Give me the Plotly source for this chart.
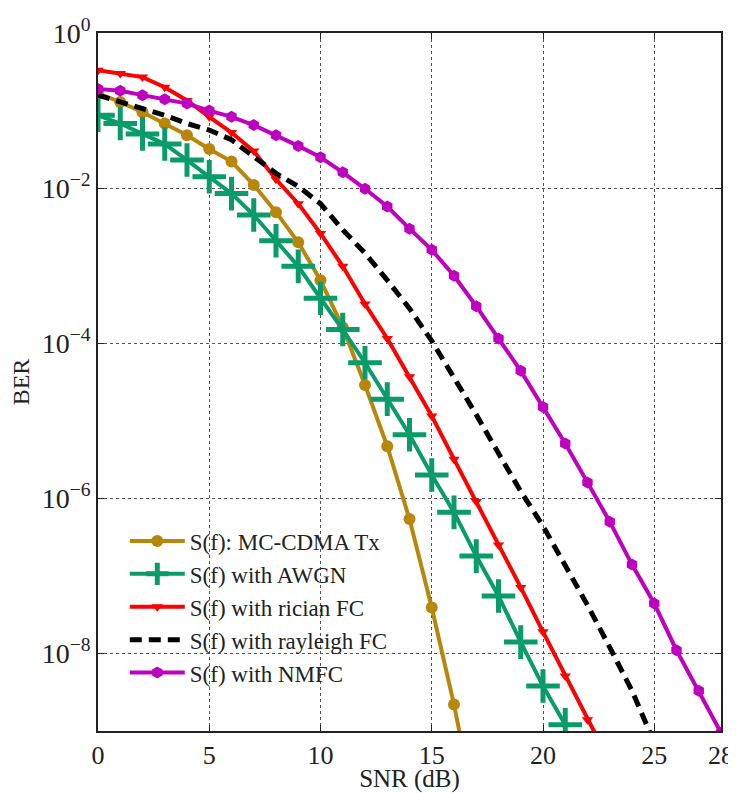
import plotly.graph_objects as go

# SNR axis (dB)
snr_tx = [0, 1, 2, 3, 4, 5, 6, 7, 8, 9, 10, 11, 12, 13, 14, 15, 16, 17]
ber_tx = [1.66e-1, 1.29e-1, 9.5e-2, 6.8e-2, 4.8e-2, 3.2e-2, 2.2e-2, 1.1e-2, 4.9e-3, 2.0e-3,
          6.5e-4, 1.6e-4, 2.9e-5, 4.7e-6, 5.4e-7, 3.9e-8, 2.2e-9, 8e-11]

snr_awgn = [0, 1, 2, 3, 4, 5, 6, 7, 8, 9, 10, 11, 12, 13, 14, 15, 16, 17, 18, 19, 20, 21]
ber_awgn = [8.7e-2, 6.8e-2, 5.0e-2, 3.7e-2, 2.3e-2, 1.4e-2, 8.5e-3, 4.5e-3, 2.1e-3, 9.8e-4,
            3.8e-4, 1.5e-4, 5.6e-5, 1.9e-5, 6.6e-6, 2.0e-6, 6.6e-7, 1.8e-7, 5.5e-8, 1.4e-8,
            3.8e-9, 1.2e-9]

snr_rician = [0, 1, 2, 3, 4, 5, 6, 7, 8, 9, 10, 11, 12, 13, 14, 15, 16, 17, 18, 19, 20, 21, 22, 23]
ber_rician = [3.3e-1, 3.0e-1, 2.7e-1, 2.0e-1, 1.35e-1, 8.3e-2, 5.2e-2, 3.0e-2, 1.3e-2, 6.3e-3,
              2.6e-3, 9.8e-4, 3.2e-4, 1.15e-4, 3.7e-5, 1.15e-5, 3.2e-6, 9.1e-7, 2.5e-7, 7.1e-8,
              1.9e-8, 5.1e-9, 1.4e-9, 4.0e-10]

snr_rayleigh = [0, 1, 2, 3, 4, 5, 6, 7, 8, 9, 10, 11, 12, 13, 14, 15, 16, 17, 18, 19, 20, 21, 22,
                23, 24, 25]
ber_rayleigh = [1.58e-1, 1.29e-1, 1.05e-1, 8.7e-2, 6.8e-2, 5.6e-2, 4.2e-2, 2.5e-2, 1.55e-2, 1.05e-2,
                6.3e-3, 2.9e-3, 1.45e-3, 6.5e-4, 2.8e-4, 1.07e-4, 3.7e-5, 1.2e-5, 3.8e-6, 1.23e-6,
                4.4e-7, 1.38e-7, 4.2e-8, 1.2e-8, 3.3e-9, 7.1e-10]

snr_nmfc = [0, 1, 2, 3, 4, 5, 6, 7, 8, 9, 10, 11, 12, 13, 14, 15, 16, 17, 18, 19, 20, 21, 22, 23,
            24, 25, 26, 27, 28]
ber_nmfc = [1.9e-1, 1.8e-1, 1.58e-1, 1.4e-1, 1.23e-1, 1.0e-1, 8.3e-2, 6.5e-2, 4.8e-2, 3.5e-2,
            2.5e-2, 1.6e-2, 9.8e-3, 5.8e-3, 3.0e-3, 1.6e-3, 7.4e-4, 3.0e-4, 1.15e-4, 4.4e-5,
            1.5e-5, 5.1e-6, 1.6e-6, 5.0e-7, 1.4e-7, 4.4e-8, 1.1e-8, 3.3e-9, 9.5e-10]

x_ticks = [0, 5, 10, 15, 20, 25, 28]
y_ticks = [1, 1e-2, 1e-4, 1e-6, 1e-8]
y_ticktext = ["10<sup>0</sup>", "10<sup>\u22122</sup>", "10<sup>\u22124</sup>",
              "10<sup>\u22126</sup>", "10<sup>\u22128</sup>"]

names = ["S(f): MC-CDMA Tx", "S(f) with AWGN", "S(f) with rician FC",
         "S(f) with rayleigh FC", "S(f) with NMFC"]

FONT = "Liberation Serif, Times New Roman, serif"
TXT = "#222222"

fig = go.Figure()
fig.add_trace(go.Scatter(
    x=snr_tx, y=ber_tx, name=names[0], mode="lines+markers",
    line=dict(color="#B8860B", width=4),
    marker=dict(symbol="circle", size=12, color="#B8860B")))
fig.add_trace(go.Scatter(
    x=snr_awgn, y=ber_awgn, name=names[1], mode="lines+markers",
    line=dict(color="#0A9B6B", width=4),
    marker=dict(symbol="cross-thin", size=24, color="#0A9B6B",
                line=dict(color="#0A9B6B", width=5))))
fig.add_trace(go.Scatter(
    x=snr_rician, y=ber_rician, name=names[2], mode="lines+markers",
    line=dict(color="#FF0000", width=4),
    marker=dict(symbol="triangle-down", size=10, color="#FF0000")))
fig.add_trace(go.Scatter(
    x=snr_rayleigh, y=ber_rayleigh, name=names[3], mode="lines",
    line=dict(color="#000000", width=5, dash="12px,7px")))
fig.add_trace(go.Scatter(
    x=snr_nmfc, y=ber_nmfc, name=names[4], mode="lines+markers",
    line=dict(color="#BF00BF", width=4),
    marker=dict(symbol="hexagon", size=12, color="#BF00BF")))

# page has an 8px body margin; figure offset accounted for in margins
fig.update_layout(
    width=728, height=785,
    margin=dict(l=90, r=15, t=25, b=62, autoexpand=False),
    paper_bgcolor="white", plot_bgcolor="white",
    font=dict(family=FONT, size=24, color=TXT),
    showlegend=True,
    legend=dict(x=0.043, y=0.303, xanchor="left", yanchor="top",
                bgcolor="rgba(255,255,255,0)", borderwidth=0,
                font=dict(family=FONT, size=23, color=TXT),
                itemwidth=55, tracegroupgap=0),
)
fig.update_xaxes(
    range=[0, 28], tickmode="array", tickvals=x_ticks,
    ticks="inside", ticklen=6, tickcolor=TXT, automargin=False,
    ticklabeloverflow="allow",
    showline=True, linecolor=TXT, linewidth=1.5, mirror="ticks",
    showgrid=True, gridcolor="#555555", gridwidth=1, griddash="dot",
    zeroline=False,
    title=dict(text="SNR (dB)", standoff=18, font=dict(family=FONT, size=25)),
    tickfont=dict(family=FONT, size=26))
fig.update_yaxes(
    type="log", range=[-9, 0], tickmode="array", tickvals=y_ticks, ticktext=y_ticktext,
    ticks="inside", ticklen=6, tickcolor=TXT, automargin=False,
    showline=True, linecolor=TXT, linewidth=1.5, mirror="ticks",
    showgrid=True, gridcolor="#555555", gridwidth=1, griddash="dot",
    zeroline=False,
    title=dict(text="BER", standoff=6, font=dict(family=FONT, size=24)),
    tickfont=dict(family=FONT, size=28))

fig.write_html("out.html")
